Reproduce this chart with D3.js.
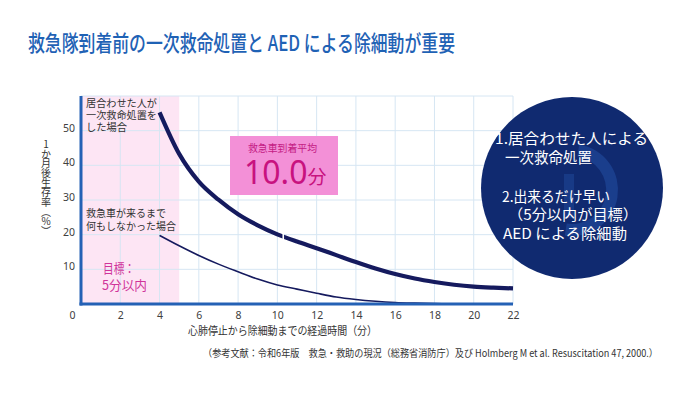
<!DOCTYPE html>
<html><head><meta charset="utf-8">
<script src="https://cdn.jsdelivr.net/npm/d3@7"></script>
<style>
html,body{margin:0;padding:0;background:#fff;}
svg{display:block;font-family:"Noto Sans CJK JP","Noto Sans",sans-serif;}
</style></head>
<body><svg id="c" width="700" height="394"></svg>
<script>
// ---- data ----
const minutes = [4,5,6,7,8,9,10,11,12,13,14,15,16,17,18,19,20,21,22];
const survivalWithCPR = [55.3,43.3,35.3,30.1,25.9,22.7,20.1,18.0,16.1,14.1,12.1,10.25,8.65,7.35,6.35,5.55,5.0,4.7,4.5];
const survivalNoAction = [19.8,16.8,14.0,11.5,9.3,7.2,5.5,4.3,3.1,2.0,1.3,0.8,0.45,0.25,0.1,0.05,0,0,0];
const xTicks = [0,2,4,6,8,10,12,14,16,18,20,22];
const yTicks = [10,20,30,40,50];
const gridY = [10,20,30,40,50,60];
const gridX = [2,4,6,8,10,12,14,16,18,20,22];
const targetMinutes = 5;
const avgArrivalMark = 10.3;

const svg = d3.select("#c");
const x = d3.scaleLinear().domain([0,22]).range([81,513]);
const y = d3.scaleLinear().domain([0,60]).range([304,96]);

// title
svg.append("text").attr("x",28).attr("y",51)
  .attr("font-size",22).attr("font-weight",500).attr("fill","#1f62b5")
  .attr("textLength",427).attr("lengthAdjust","spacingAndGlyphs")
  .text("救急隊到着前の一次救命処置と AED による除細動が重要");

// target band
svg.append("rect").attr("x",x(0)).attr("y",y(60))
  .attr("width",x(targetMinutes)-x(0)).attr("height",y(0)-y(60))
  .attr("fill","#fde5f4");

// gridlines
svg.append("g").selectAll("line").data(gridY).join("line")
  .attr("x1",x(0)).attr("x2",x(22)).attr("y1",d=>y(d)).attr("y2",d=>y(d))
  .attr("stroke","#d6e6f3").attr("stroke-width",1);
svg.append("g").selectAll("line").data(gridX).join("line")
  .attr("x1",d=>x(d)).attr("x2",d=>x(d)).attr("y1",y(0)).attr("y2",y(60))
  .attr("stroke","#d6e6f3").attr("stroke-width",1);

// axes labels
const xa = svg.append("g").attr("transform",`translate(0,${y(0)+3})`)
  .call(d3.axisBottom(x).tickValues(xTicks).tickSize(0).tickPadding(5));
xa.select(".domain").remove();
xa.selectAll("text").attr("font-size",10.5).attr("fill","#404040")
  .attr("font-family","'Noto Sans','Noto Sans CJK JP',sans-serif")
  .attr("dx",d=>d===0?-9:0);
const ya = svg.append("g").attr("transform",`translate(${x(0)-6},-3)`)
  .call(d3.axisLeft(y).tickValues(yTicks).tickSize(0).tickPadding(0));
ya.select(".domain").remove();
ya.selectAll("text").attr("font-size",10.5).attr("fill","#404040")
  .attr("font-family","'Noto Sans','Noto Sans CJK JP',sans-serif");

// curves
const line = d3.line().x((d,i)=>x(minutes[i])).y(d=>y(d)).curve(d3.curveMonotoneX);
svg.append("path").attr("d",line(survivalNoAction)).attr("fill","none")
  .attr("stroke","#151a5e").attr("stroke-width",1.6);
svg.append("path").attr("d",line(survivalWithCPR)).attr("fill","none")
  .attr("stroke","#151a5e").attr("stroke-width",4.2);

// small white marker on curve
const yAtAvg = d3.scaleLinear().domain(minutes).range(survivalWithCPR);
svg.append("line").attr("x1",x(avgArrivalMark)).attr("x2",x(avgArrivalMark))
  .attr("y1",y(yAtAvg(avgArrivalMark))-4).attr("y2",y(yAtAvg(avgArrivalMark))+4)
  .attr("stroke","#fff").attr("stroke-width",1.6);

// axis lines
svg.append("line").attr("x1",x(0)).attr("x2",x(0)).attr("y1",y(60)).attr("y2",y(0)+1.5)
  .attr("stroke","#2461b5").attr("stroke-width",3);
svg.append("line").attr("x1",x(0)-1.5).attr("x2",x(22)).attr("y1",y(0)).attr("y2",y(0))
  .attr("stroke","#2461b5").attr("stroke-width",3);

// annotations
const ann = (t,xx,yy,w)=>svg.append("text").attr("x",xx).attr("y",yy).attr("font-size",10.5)
  .attr("fill","#333").attr("textLength",w).attr("lengthAdjust","spacingAndGlyphs").text(t);
ann("居合わせた人が",86,107,71);
ann("一次救命処置を",86,119,71);
ann("した場合",86,131,41);
ann("救急車が来るまで",86,217,80);
ann("何もしなかった場合",86,230,90);

// target text
svg.append("text").attr("x",103).attr("y",273).attr("font-size",13).attr("fill","#d0349a")
  .attr("textLength",32).attr("lengthAdjust","spacingAndGlyphs").text("目標：");
svg.append("text").attr("x",102).attr("y",290).attr("font-size",13).attr("fill","#d0349a")
  .attr("textLength",45).attr("lengthAdjust","spacingAndGlyphs").text("5分以内");

// average box
svg.append("rect").attr("x",230).attr("y",136).attr("width",108).attr("height",59).attr("fill","#f390d7");
svg.append("text").attr("x",248).attr("y",152).attr("font-size",10.5).attr("fill","#c41c84")
  .attr("textLength",69).attr("lengthAdjust","spacingAndGlyphs").text("救急車到着平均");
const big = svg.append("text").attr("x",244).attr("y",184).attr("fill","#c8127f");
big.append("tspan").attr("font-size",32).attr("font-family","'Noto Sans',sans-serif").text("10.0");
big.append("tspan").attr("font-size",19).text("分");

// axis titles
svg.append("text").attr("x",46).attr("y",139)
  .style("writing-mode","vertical-rl").style("text-orientation","upright")
  .attr("font-size",10).style("letter-spacing","-0.3px").attr("fill","#333")
  .text("1か月後生存率（%）");
svg.append("text").attr("x",188).attr("y",335).attr("font-size",11.5).attr("fill","#333")
  .attr("textLength",189).attr("lengthAdjust","spacingAndGlyphs")
  .text("心肺停止から除細動までの経過時間（分）");
svg.append("text").attr("x",203).attr("y",357).attr("font-size",10).attr("fill","#333")
  .attr("textLength",455).attr("lengthAdjust","spacingAndGlyphs")
  .text("（参考文献：令和6年版　救急・救助の現況（総務省消防庁）及び Holmberg M et al. Resuscitation 47, 2000.）");

// circle
const cx=572, cy=188;
svg.append("circle").attr("cx",cx).attr("cy",cy).attr("r",91).attr("fill","#102a70");
svg.append("path").attr("transform",`translate(${cx},${cy+2})`)
  .attr("d",d3.arc().innerRadius(34).outerRadius(46).startAngle(0.05*Math.PI).endAngle(1.05*Math.PI)())
  .attr("fill","#1a3e8c");
svg.append("rect").attr("x",cx-8).attr("y",cy-14).attr("width",10).attr("height",44).attr("fill","#1a3e8c").attr("opacity",0.8);
const ct = (t,xx,yy,w)=>svg.append("text").attr("x",xx).attr("y",yy).attr("font-size",14.5)
  .attr("fill","#fff").attr("textLength",w).attr("lengthAdjust","spacingAndGlyphs").text(t);
ct("1.居合わせた人による",495,144,153);
ct("一次救命処置",505,163,87);
ct("2.出来るだけ早い",502,202,108);
ct("（5分以内が目標）",508,220,130);
ct("AED による除細動",503,239,124);
</script></body></html>
